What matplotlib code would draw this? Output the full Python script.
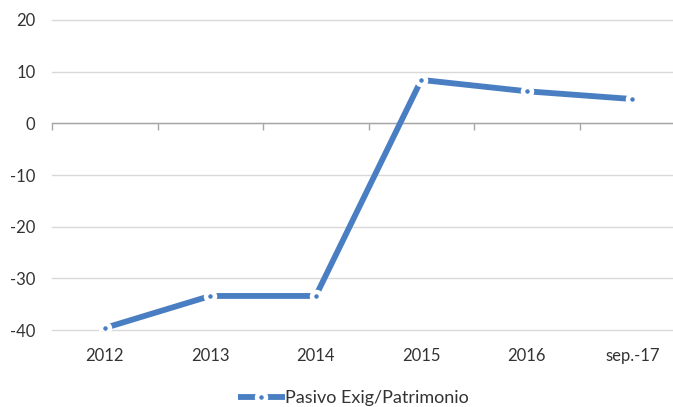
import numpy as np
import matplotlib.pyplot as plt

categories = ["2012", "2013", "2014", "2015", "2016", "sep.-17"]
ratio = [-39.6, -33.4, -33.4, 8.4, 6.2, 4.7]
series_name = "Pasivo Exig/Patrimonio"

blue = "#4a7ec2"
text_gray = "#333333"

plt.rcParams["font.family"] = ["Lato", "DejaVu Sans"]
plt.rcParams["axes.unicode_minus"] = False

fig = plt.figure(figsize=(6.73, 4.07), dpi=100)
ax = fig.add_axes([0.0773, 0.189, 0.9406, 0.762])

x = np.arange(len(categories))
ax.plot(x, ratio, color=blue, lw=4.2, solid_capstyle="butt",
        marker="o", ms=6.5, mfc=blue, mec="white", mew=3.2,
        label=series_name, zorder=3)

ax.set_xlim(-0.5, len(categories) - 0.5)
ax.set_ylim(-40, 20)
ax.set_yticks(np.arange(-40, 21, 10))
ax.grid(axis="y", color="#d9d9d9", lw=1.0)
for gl in ax.yaxis.get_gridlines():
    gl.set_clip_on(False)
ax.set_axisbelow(True)

for side in ["top", "right", "left"]:
    ax.spines[side].set_visible(False)

# horizontal axis crosses at zero, ticks between categories
ax.spines["bottom"].set_position(("data", 0))
ax.spines["bottom"].set_color("#a6a6a6")
ax.spines["bottom"].set_linewidth(1.0)
ax.set_xticks(np.arange(-0.5, len(categories), 1.0), minor=True)
ax.set_xticks([])
ax.tick_params(axis="x", which="minor", length=5, width=1.0,
               color="#a6a6a6", direction="out")
ax.tick_params(axis="y", length=0, pad=12, labelsize=12, labelcolor=text_gray)

# category labels at the bottom of the plot area
sec = ax.secondary_xaxis("bottom")
sec.set_xticks(x)
sec.set_xticklabels(categories)
sec.spines["bottom"].set_visible(False)
sec.tick_params(length=0, pad=13, labelsize=12, labelcolor=text_gray)

fig.legend(loc="center", bbox_to_anchor=(0.525, 0.022), frameon=False,
           fontsize=13, labelcolor=text_gray, handlelength=2.6,
           handletextpad=0.0, numpoints=1)

fig.savefig("out.png", dpi=100)
